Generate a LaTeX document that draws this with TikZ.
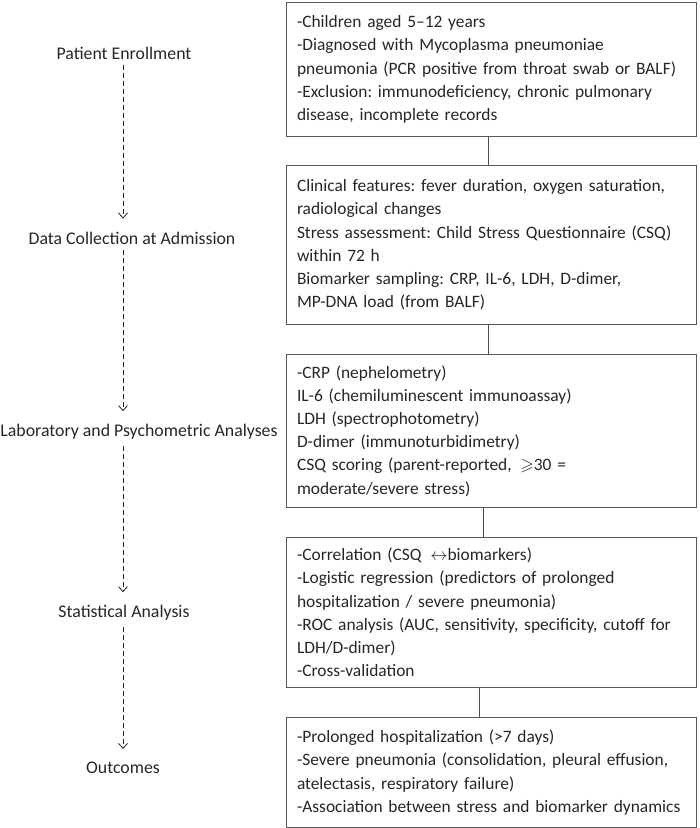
\documentclass[tikz,border=0pt]{standalone}
\usepackage{fontspec}
\usepackage{amssymb}
\setmainfont{Carlito}
\frenchspacing
\usetikzlibrary{positioning,arrows.meta}
\tikzset{
    box/.style={draw=black!65, line width=0.9pt, text width=388pt, inner xsep=11pt, inner ysep=0pt,
        align=left, anchor=north, text=black!85, font=\fontsize{17.4}{23.2}\selectfont},
    stage/.style={text=black!85, inner sep=6pt, font=\fontsize{17.8}{20}\selectfont},
    flow/.style={black!85, line width=0.8pt, dash pattern=on 5pt off 3pt, shorten >=7pt,
        -{Straight Barb[length=5pt,width=9pt]}},
    link/.style={black!70, line width=0.9pt}
}

\begin{document}
\begin{tikzpicture}[x=1pt,y=-1pt]
    \useasboundingbox (0,0) rectangle (700,828);
    \coordinate (axis) at (123,0);
    % stages on the left
    \node[stage] (enrollLabel) at (124,53) {Patient Enrollment};
    \node[stage] (collectLabel) at (132,238) {Data Collection at Admission};
    \node[stage] (labLabel) at (139,432) {Laboratory and Psychometric Analyses};
    \node[stage] (statsLabel) at (124,613) {Statistical Analysis};
    \node[stage] (outcomeLabel) at (123,768) {Outcomes};
    \foreach \a/\b in {enrollLabel/collectLabel,collectLabel/labLabel,labLabel/statsLabel,statsLabel/outcomeLabel}
        \draw[flow] (\a.south -| axis) -- (\b.north -| axis);
    % boxes on the right
    \node[box, minimum height=134pt] (enroll) at (491,2) {-Children aged 5–12 years\\
        -Diagnosed with Mycoplasma pneumoniae\\
        pneumonia (PCR positive from throat swab or BALF)\\
        -Exclusion: immunodeficiency, chronic pulmonary\\
        disease, incomplete records};
    \node[box, minimum height=159pt] (collect) at (491,165) {Clinical features: fever duration, oxygen saturation,\\
        radiological changes\\
        Stress assessment: Child Stress Questionnaire (CSQ)\\
        within 72 h\\
        Biomarker sampling: CRP, IL-6, LDH, D-dimer,\\
        MP-DNA load (from BALF)};
    \node[box, minimum height=153pt] (lab) at (491,354) {-CRP (nephelometry)\\
        IL-6 (chemiluminescent immunoassay)\\
        LDH (spectrophotometry)\\
        D-dimer (immunoturbidimetry)\\
        CSQ scoring (parent-reported, \,$\geqslant$30 =\\
        moderate/severe stress)};
    \node[box, minimum height=150pt] (stats) at (491,537) {-Correlation (CSQ \,$\leftrightarrow$biomarkers)\\
        -Logistic regression (predictors of prolonged\\
        hospitalization / severe pneumonia)\\
        -ROC analysis (AUC, sensitivity, specificity, cutoff for\\
        LDH/D-dimer)\\
        -Cross-validation};
    \node[box, minimum height=110pt] (outcome) at (491,717) {-Prolonged hospitalization (>7 days)\\
        -Severe pneumonia (consolidation, pleural effusion,\\
        atelectasis, respiratory failure)\\
        -Association between stress and biomarker dynamics};
    \foreach \a/\b/\d in {enroll/collect/-3,collect/lab/-3,lab/stats/-8,stats/outcome/-12}
        \draw[link] ([xshift=\d pt]\a.south) -- ([xshift=\d pt]\b.north);
\end{tikzpicture}
\end{document}
